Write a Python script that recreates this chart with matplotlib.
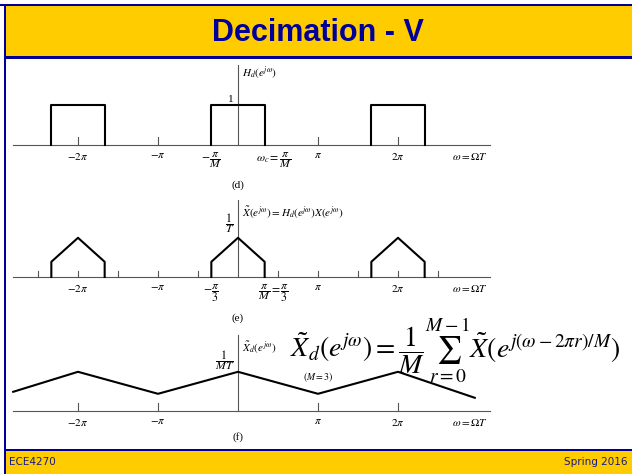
import numpy as np
import matplotlib.pyplot as plt
from matplotlib.patches import Rectangle

plt.rcParams['mathtext.fontset'] = 'stix'
plt.rcParams['font.family'] = ['Liberation Serif', 'DejaVu Serif']

W, H = 632, 474
YELLOW = '#ffcc00'
NAVY = '#000099'
AXIS = '#555555'

# frequencies are in units of pi, heights in units of the lowpass gain
M = 3
d_centers = [-2, 0, 2]
d_gain = 1.0

e_centers = [-2, 0, 2]
e_w = [-1 / 3, -1 / 3, 0, 1 / 3, 1 / 3]
e_h = [0.0, 0.38, 0.98, 0.38, 0.0]
e_ticks = [-2.5, -2, -1.5, -1, -0.5, 0.5, 1, 1.5, 2, 2.5]

f_w = [-2.81, -2, -1, 0, 1, 2, 2.96]
f_h = [0.48, 0.98, 0.43, 0.98, 0.43, 0.98, 0.33]

main_ticks = [-2, -1, 1, 2]
main_labels = [r'$-2\pi$', r'$-\pi$', r'$\pi$', r'$2\pi$']

fig = plt.figure(figsize=(W / 100, H / 100), dpi=100)
fig.patch.set_facecolor('white')


def fig_rect(x, y, w, h, color):
    fig.patches.append(Rectangle((x / W, 1 - (y + h) / H), w / W, h / H,
                                 transform=fig.transFigure, color=color,
                                 lw=0, zorder=0))


# slide frame, title bar and footer
fig_rect(0, 3.5, W, 2.5, NAVY)
fig_rect(4, 6, W - 4, 50, YELLOW)
fig_rect(4, 56, W - 4, 2.5, NAVY)
fig_rect(3.5, 3.5, 2.5, H, NAVY)
fig_rect(4, 449, W - 4, 2, NAVY)
fig_rect(6, 451, W - 6, H - 451, YELLOW)

fig.text(318 / W, 1 - 33 / H, 'Decimation - V', ha='center', va='center',
         fontsize=22, fontweight='bold', color=NAVY,
         family='Liberation Sans')
fig.text(9 / W, 1 - 462 / H, 'ECE4270', ha='left', va='center',
         fontsize=7.5, color='#1a1a80', family='DejaVu Sans')
fig.text(627 / W, 1 - 462 / H, 'Spring 2016', ha='right', va='center',
         fontsize=7.5, color='#1a1a80', family='DejaVu Sans')


def panel(top, bottom, axis_y, unit=40.0, zero=238.0, pi_px=80.0):
    ax = fig.add_axes([0, 1 - bottom / H, 1, (bottom - top) / H])
    ax.set_xlim(-zero / pi_px, (W - zero) / pi_px)
    ax.set_ylim((axis_y - bottom) / unit, (axis_y - top) / unit)
    ax.axis('off')
    return ax


def axes_lines(ax, vtop, ticks, tick_h):
    ax.plot([-2.81, 3.15], [0, 0], color=AXIS, lw=0.8)
    ax.plot([0, 0], [0, vtop], color=AXIS, lw=0.8)
    for t in ticks:
        ax.plot([t, t], [0, tick_h], color=AXIS, lw=0.8)


def tick_labels(ax, y):
    for t, s in zip(main_ticks, main_labels):
        ax.text(t, y, s, ha='center', va='top', fontsize=8)
    ax.text(2.9, y, r'$\omega = \Omega T$', ha='center', va='top', fontsize=8)


# (d) ideal lowpass filter
ax = panel(58, 195, 145)
axes_lines(ax, 2.0, main_ticks, 0.2)
for c in d_centers:
    ax.plot([c - 1 / M, c - 1 / M, c + 1 / M, c + 1 / M],
            [0, d_gain, d_gain, 0], color='black', lw=1.5)
tick_labels(ax, -0.16)
ax.text(-1 / M, -0.14, r'$-\dfrac{\pi}{M}$', ha='center', va='top',
        fontsize=8.5)
ax.text(0.45, -0.14, r'$\omega_c = \dfrac{\pi}{M}$', ha='center', va='top',
        fontsize=8.5)
ax.text(-0.06, 1.02, '1', ha='right', va='bottom', fontsize=8)
ax.text(0.05, 1.8, r'$H_d(e^{j\omega})$', ha='left', va='center', fontsize=8)
ax.text(0, -1.0, '(d)', ha='center', va='center', fontsize=8)

# (e) filtered spectrum
ax = panel(195, 325, 277)
axes_lines(ax, 1.92, e_ticks, 0.15)
for c in e_centers:
    ax.plot(np.array(e_w) + c, e_h, color='black', lw=1.5)
tick_labels(ax, -0.16)
ax.text(-1 / M, -0.14, r'$-\dfrac{\pi}{3}$', ha='center', va='top',
        fontsize=8.5)
ax.text(0.45, -0.14, r'$\dfrac{\pi}{M} = \dfrac{\pi}{3}$', ha='center',
        va='top', fontsize=8.5)
ax.text(-0.1, 1.05, r'$\dfrac{1}{T}$', ha='center', va='bottom', fontsize=8.5)
ax.text(0.05, 1.62,
        r'$\tilde{X}(e^{j\omega}) = H_d(e^{j\omega})X(e^{j\omega})$',
        ha='left', va='center', fontsize=8)
ax.text(0, -1.02, '(e)', ha='center', va='center', fontsize=8)

# (f) decimated spectrum
ax = panel(325, 449, 411)
axes_lines(ax, 1.9, main_ticks, 0.2)
ax.plot(f_w, f_h, color='black', lw=1.5)
tick_labels(ax, -0.16)
ax.text(-0.17, 0.98, r'$\dfrac{1}{MT}$', ha='center', va='bottom',
        fontsize=8.5)
ax.text(0.05, 1.6, r'$\tilde{X}_d(e^{j\omega})$', ha='left', va='center',
        fontsize=8)
ax.text(1.0, 0.86, r'$(M = 3)$', ha='center', va='center', fontsize=7)

# decimation relation, split so the (M = 3) note sits under its left side
ax.text(0.65, 1.35, r'$\tilde{X}_d(e^{j\omega}) =$',
        ha='left', va='baseline', fontsize=20)
ax.text(2.0, 1.35,
        r'$\dfrac{1}{M}\sum_{r=0}^{M-1}\tilde{X}(e^{j(\omega - 2\pi r)/M})$',
        ha='left', va='baseline', fontsize=20)
ax.text(0, -0.65, '(f)', ha='center', va='center', fontsize=8)

fig.savefig('out.png', dpi=100)
